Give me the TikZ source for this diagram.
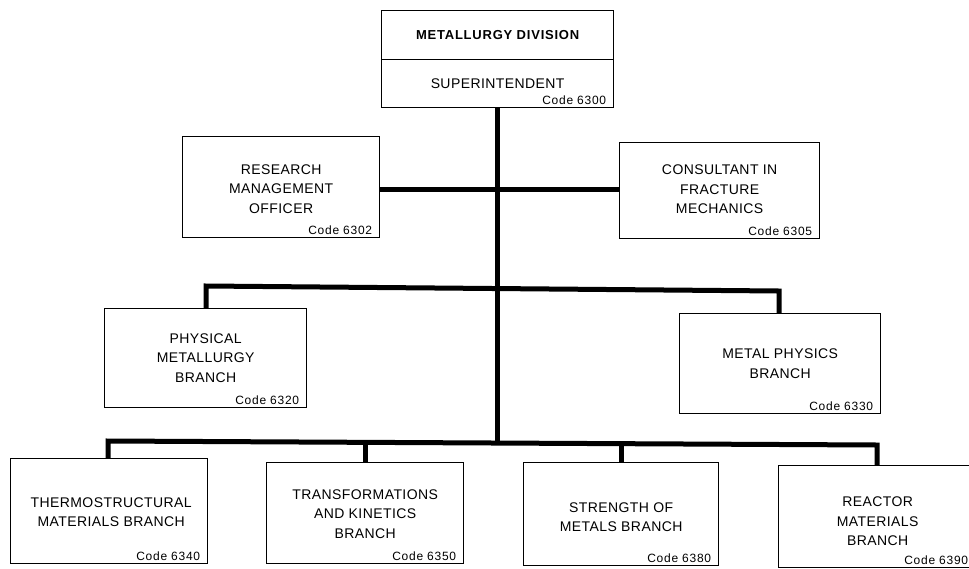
\documentclass[tikz,border=0pt]{standalone}
\usepackage{fontspec}
\setmainfont{Liberation Sans}
\usetikzlibrary{calc}
\newcommand\mkbox[5]{%
  \node[box, anchor=north west, minimum width={(#4)-(#2)}, minimum height={(#5)-(#3)}] (#1) at (#2,#3) {};}
\begin{document}
\begin{tikzpicture}[x=1pt,y=-1pt,
  box/.style={draw, line width=1.3pt, rectangle, inner sep=0pt},
  lbl/.style={align=center, font=\fontsize{14}{19.5}\selectfont\addfontfeature{LetterSpace=3}, inner sep=0pt},
  headlbl/.style={font=\fontsize{13}{15}\selectfont\bfseries\addfontfeature{LetterSpace=6}, inner sep=0pt},
  codelbl/.style={anchor=south east, font=\fontsize{12}{14}\selectfont\addfontfeature{LetterSpace=6}, inner xsep=8pt, inner ysep=3pt},
  conn/.style={line width=5pt, line join=miter}]
\useasboundingbox[fill=white] (0,0) rectangle (969,568);

% boxes
\mkbox{topA}{381}{10}{613}{59}
\mkbox{topB}{381}{59}{613}{107}
\mkbox{res}{182}{136}{379}{237}
\mkbox{cons}{619}{142}{819}{238}
\mkbox{phys}{104}{308}{306}{407}
\mkbox{metal}{679}{313}{880}{413}
\mkbox{bA}{10}{458}{207}{563}
\mkbox{bB}{266}{462}{463}{563}
\mkbox{bC}{523}{462}{718}{565}
\mkbox{bD}{778}{465}{976}{567}

% junctions
\coordinate (j1) at (497,189);
\coordinate (j3) at (497,443);
\coordinate (dphys) at (206,286);
\coordinate (dmetal) at (779,291);
\coordinate (d1) at (108,441);
\coordinate (d2) at (365,442.3);
\coordinate (d3) at (621,443.7);
\coordinate (d4) at (877,445);

% connectors
\draw[conn] (topB.south -| j1) -- (j3);
\draw[conn] (res.east |- j1) -- (cons.west |- j1);
\draw[conn] (dphys |- phys.north) -- (dphys) -- (dmetal) -- (dmetal |- metal.north);
\draw[conn] (d1 |- bA.north) -- (d1) -- (d4) -- (d4 |- bD.north);
\draw[conn] (d2) -- (d2 |- bB.north);
\draw[conn] (d3) -- (d3 |- bC.north);

% texts
\node[headlbl] (tA) at (topA.center) {METALLURGY DIVISION};
\node[lbl] (tB) at (topB.center) {SUPERINTENDENT};
\node[codelbl] (cB) at (topB.south east) {Code 6300};

\node[lbl] (tres) at ($(res.center)+(0,2)$) {RESEARCH\\MANAGEMENT\\OFFICER};
\node[codelbl] (cres) at (res.south east) {Code 6302};

\node[lbl] (tcons) at ($(cons.center)+(0,-1)$) {CONSULTANT IN\\FRACTURE\\MECHANICS};
\node[codelbl] (ccons) at (cons.south east) {Code 6305};

\node[lbl] (tphys) at (phys.center) {PHYSICAL\\METALLURGY\\BRANCH};
\node[codelbl] (cphys) at (phys.south east) {Code 6320};

\node[lbl] (tmetal) at (metal.center) {METAL PHYSICS\\BRANCH};
\node[codelbl] (cmetal) at (metal.south east) {Code 6330};

\node[lbl] (tbA) at ($(bA.center)+(2,1)$) {THERMOSTRUCTURAL\\MATERIALS BRANCH};
\node[codelbl] (cbA) at (bA.south east) {Code 6340};

\node[lbl] (tbB) at ($(bB.center)+(0,1)$) {TRANSFORMATIONS\\AND KINETICS\\BRANCH};
\node[codelbl] (cbB) at (bB.south east) {Code 6350};

\node[lbl] (tbC) at ($(bC.center)+(0,3)$) {STRENGTH OF\\METALS BRANCH};
\node[codelbl] (cbC) at (bC.south east) {Code 6380};

\node[lbl] (tbD) at ($(bD.center)+(0,5)$) {REACTOR\\MATERIALS\\BRANCH};
\node[codelbl] (cbD) at ($(bD.south east)+(-1,0)$) {Code 6390};
\end{tikzpicture}
\end{document}
